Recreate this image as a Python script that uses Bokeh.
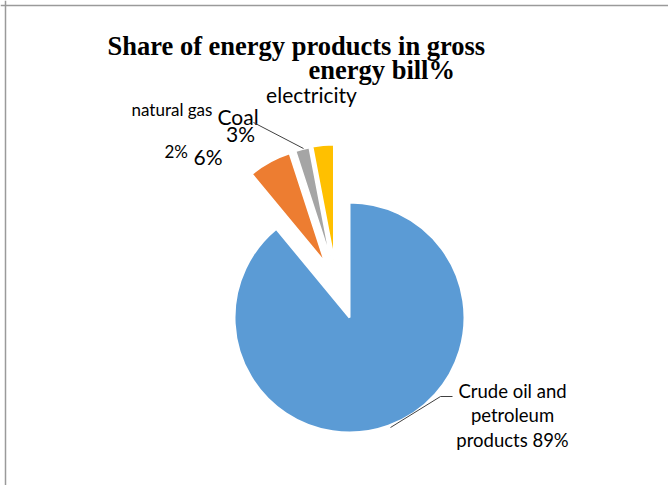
import numpy as np
from bokeh.plotting import figure
from bokeh.models import Range1d, Span, ColumnDataSource
from bokeh.core.properties import value
from bokeh.embed import file_html
from bokeh.resources import INLINE

# ---- data ----
categories = ["Crude oil and petroleum products", "natural gas", "Coal", "electricity"]
shares = [89, 6, 2, 3]

# ---- style / layout ----
colors = ["#5B9BD5", "#ED7D31", "#A5A5A5", "#FFC000"]
explode_dist = [0, 60, 60, 60]          # px the slice is pulled out
explode_dir = [0, 336, 342, 345]        # clockwise degrees from 12 o'clock
W, H = 668, 485
CX, CY, R = 349, 168, 115
DY = 8  # baseline correction for text

p = figure(width=W, height=H, x_range=Range1d(0, W), y_range=Range1d(0, H),
           output_backend="svg", toolbar_location=None, min_border=0)
p.axis.visible = False
p.grid.visible = False
p.outline_line_color = None
p.background_fill_color = "white"
p.border_fill_color = "white"

vals = np.array(shares, dtype=float)
frac = vals / vals.sum()
cum = np.concatenate([[0], np.cumsum(frac)])
start = np.pi / 2 - 2 * np.pi * cum[:-1]
end = np.pi / 2 - 2 * np.pi * cum[1:]
dirs = np.radians(explode_dir)
xs = CX + np.array(explode_dist) * np.sin(dirs)
ys = CY + np.array(explode_dist) * np.cos(dirs)

src = ColumnDataSource(dict(x=xs, y=ys, start=start, end=end, color=colors, name=categories))
p.wedge(x="x", y="y", radius=R, start_angle="start", end_angle="end", direction="clock",
        fill_color="color", line_color="white", line_width=2, source=src)

# border of chart area
p.add_layout(Span(location=5, dimension="height", line_color="#9A9A9A", line_width=1.5))
p.add_layout(Span(location=H - 5, dimension="width", line_color="#9A9A9A", line_width=1.5))

# title
TF = value("Liberation Serif")
p.text(x=[107], y=[432 + DY], text=["Share of energy products in gross"],
       text_font=TF, text_font_style="bold", text_font_size="26.5px",
       text_align="left", text_baseline="alphabetic", text_color="black")
p.text(x=[308], y=[408 + DY], text=["energy bill%"],
       text_font=TF, text_font_style="bold", text_font_size="26.5px",
       text_align="left", text_baseline="alphabetic", text_color="black")

F = value("Lato")
BIG, SMALL, MID = "21px", "17px", "18.5px"
def lab(x, y, t, size, align="left"):
    p.text(x=[x], y=[y + DY], text=[t], text_font=F, text_font_size=size,
           text_align=align, text_baseline="alphabetic", text_color="black")

lab(311, 383, categories[3], BIG, "center")
lab(131, 368, categories[1], SMALL)
lab(217, 361, categories[2], BIG)
lab(240, 344, f"{shares[3]}%", BIG, "center")
lab(164, 326, f"{shares[2]}%", SMALL)
lab(193, 321, f"{shares[1]}%", BIG)
p.text(x=[512, 512, 512], y=[87 + DY, 63 + DY, 38 + DY],
       text=["Crude oil and", "petroleum", f"products {shares[0]}%"],
       text_font=F, text_font_size=MID, text_align="center", text_baseline="alphabetic",
       text_color="black")

# leader lines
p.line(x=[253, 303], y=[363, 337], line_color="#404040", line_width=1)
p.line(x=[452, 440, 390], y=[89, 89, 58], line_color="#404040", line_width=1)

open("out.html", "w").write(file_html(p, INLINE))
